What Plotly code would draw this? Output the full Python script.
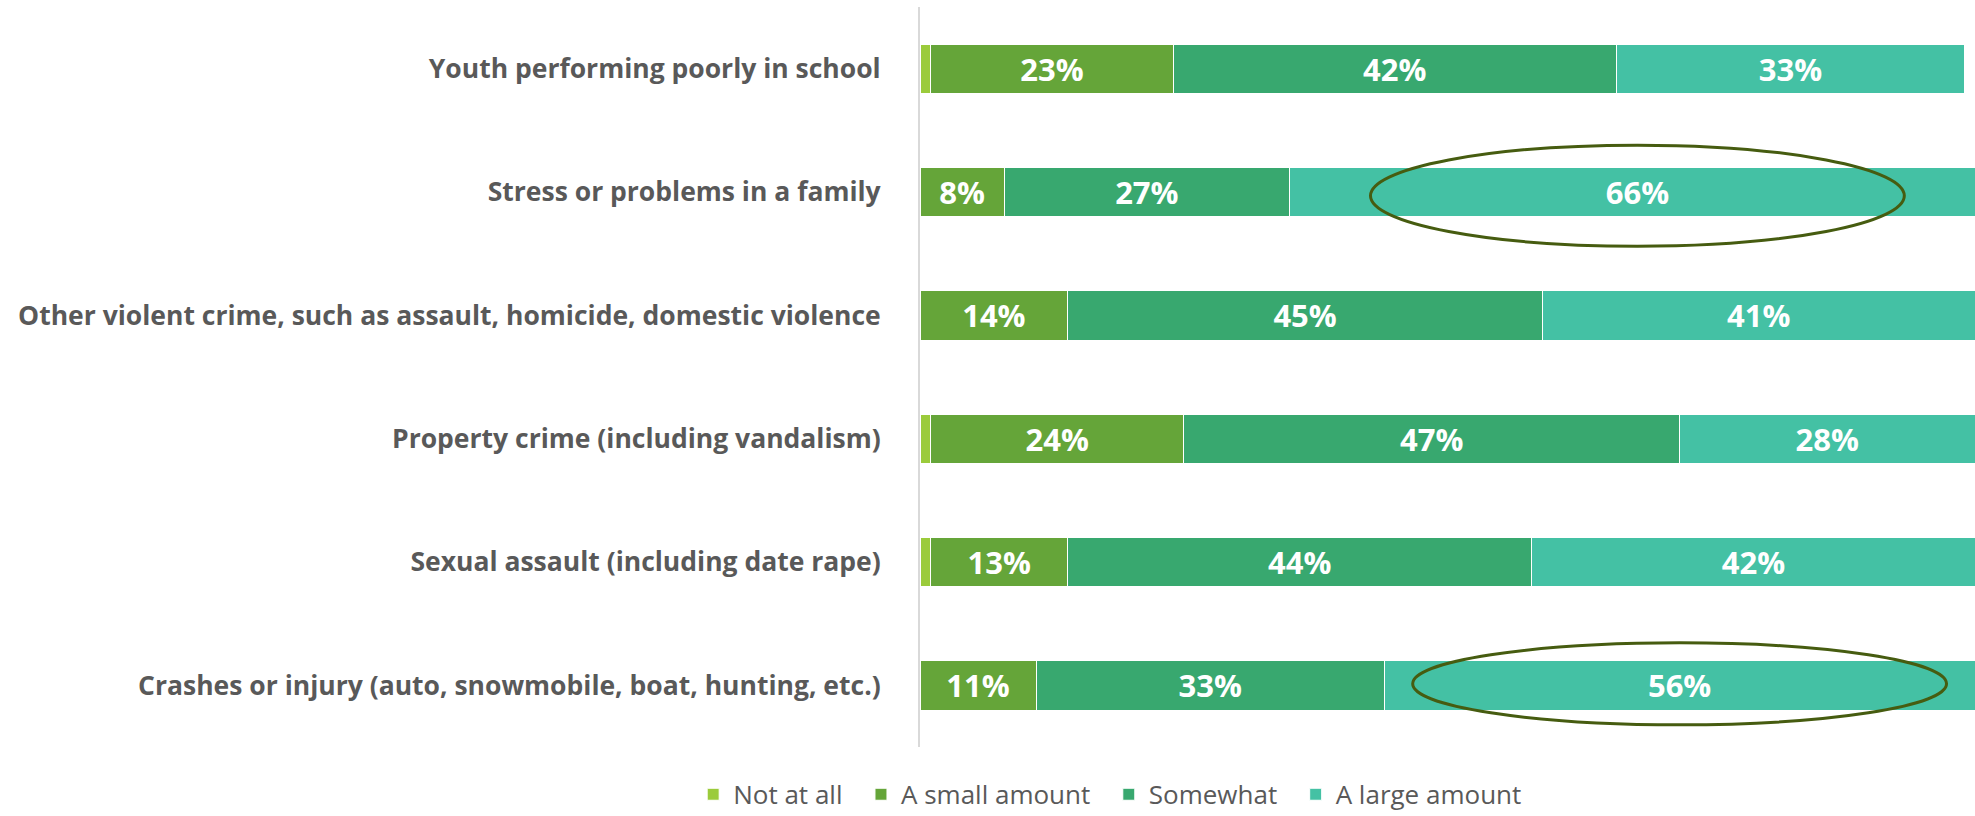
import plotly.graph_objects as go

# ----------------------------------------------------------------------------- data

categories = [
    "Youth performing poorly in school",
    "Stress or problems in a family",
    "Other violent crime, such as assault, homicide, domestic violence",
    "Property crime (including vandalism)",
    "Sexual assault (including date rape)",
    "Crashes or injury (auto, snowmobile, boat, hunting, etc.)",
]

not_at_all = [1, 0, 0, 1, 1, 0]
small_amount = [23, 8, 14, 24, 13, 11]
somewhat = [42, 27, 45, 47, 44, 33]
large_amount = [33, 66, 41, 28, 42, 56]

series_names = ["Not at all", "A small amount", "Somewhat", "A large amount"]
series_colors = ["#9BCB3B", "#65A539", "#38A86F", "#44C1A4"]

# rows whose "A large amount" segment is circled: (row, reach above, reach below)
highlights = [(1, 0.38, 0.44), (5, 0.345, 0.32)]

# ----------------------------------------------------------------------------- figure

fig = go.Figure()

for i, (name, vals, color) in enumerate(
    zip(series_names, [not_at_all, small_amount, somewhat, large_amount], series_colors)
):
    show_text = name != "Not at all"
    # a little trailing space widens the gap between legend entries
    pad = "\u00a0\u00a0" if i < len(series_names) - 1 else ""
    fig.add_trace(
        go.Bar(
            y=categories,
            x=vals,
            name=name + pad,
            orientation="h",
            marker=dict(color=color, line=dict(color="white", width=1)),
            text=[f"{v}%" if (show_text and v > 0) else "" for v in vals],
            textposition="inside",
            insidetextanchor="middle",
            constraintext="none",
            textfont=dict(family="Open Sans", size=31, color="white", weight="bold"),
            hoverinfo="skip",
        )
    )

# ellipses round the large-amount segments
for row, above, below in highlights:
    start = not_at_all[row] + small_amount[row] + somewhat[row]
    mid = start + large_amount[row] / 2
    fig.add_shape(
        type="circle",
        xref="x",
        yref="y",
        x0=mid - 25.3,
        x1=mid + 25.3,
        y0=row - above,
        y1=row + below,
        line=dict(color="#465C10", width=3),
        fillcolor="rgba(0,0,0,0)",
        layer="above",
    )

fig.update_layout(
    barmode="stack",
    bargap=0.6,
    width=1975,
    height=816,
    plot_bgcolor="white",
    paper_bgcolor="white",
    margin=dict(l=920, r=0, t=7, b=69, autoexpand=False),
    font=dict(family="Open Sans", color="#595959"),
    legend=dict(
        orientation="h",
        x=-0.215,
        xanchor="left",
        y=-0.064,
        yanchor="middle",
        font=dict(size=26, color="#595959"),
        traceorder="normal",
        itemclick=False,
    ),
    showlegend=True,
)

fig.update_xaxes(
    range=[0, 100],
    showgrid=False,
    zeroline=False,
    showticklabels=False,
    showline=False,
)

fig.update_yaxes(
    autorange="reversed",
    showgrid=False,
    showline=True,
    linecolor="#D9D9D9",
    linewidth=2,
    ticks="",
    ticklabelstandoff=32,
    tickfont=dict(family="Open Sans", size=26.5, color="#595959", weight="bold"),
)

# drop the default page margin so the figure sits at the window corner
fig.write_html(
    "out.html",
    config={"displayModeBar": False},
    post_script="document.body.style.margin = '0';",
)
